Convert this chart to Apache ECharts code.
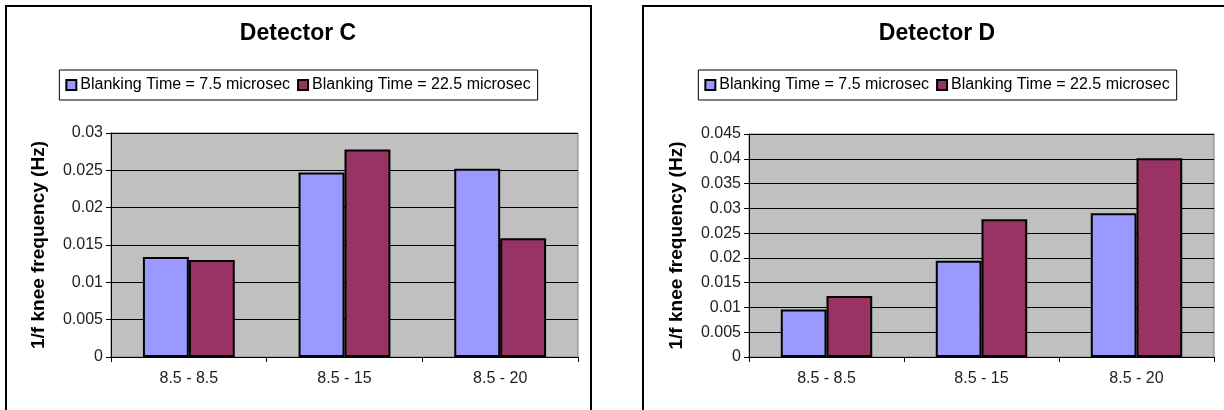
<!DOCTYPE html>
<html>
<head>
<meta charset="utf-8">
<script src="https://cdn.jsdelivr.net/npm/echarts@6/dist/echarts.min.js"></script>
<style>
  html, body { margin: 0; padding: 0; background: #fff; width: 1224px; height: 410px; overflow: hidden; }
  .frame { position: absolute; border: 2px solid #000; box-sizing: border-box; }
  .chart { position: absolute; top: 0; height: 410px; }
</style>
</head>
<body>
<div class="frame" style="left:5px; top:5px; width:587px; height:420px;"></div>
<div class="frame" style="left:642px; top:5px; width:600px; height:420px;"></div>
<div id="chartC" class="chart" style="left:5px; width:586px;"></div>
<div id="chartD" class="chart" style="left:643px; width:588px;"></div>
<script>
// ---- data ----
const categories = ['8.5 - 8.5', '8.5 - 15', '8.5 - 20'];
const seriesNames = ['Blanking Time = 7.5 microsec', 'Blanking Time = 22.5 microsec'];
const detectorC_75 = [0.0134, 0.0247, 0.0252];
const detectorC_225 = [0.0130, 0.0278, 0.0159];
const detectorD_75 = [0.0096, 0.0194, 0.0290];
const detectorD_225 = [0.0123, 0.0278, 0.0401];
const yAxisTitle = '1/f knee frequency (Hz)';
const titleC = 'Detector C';
const titleD = 'Detector D';
const yMaxC = 0.03;
const yMaxD = 0.045;
const yStep = 0.005;

const colors = ['#9999ff', '#993366'];
const FONT = 'Arial, "Liberation Sans", sans-serif';

function makeOption(title, dataA, dataB, yMax, gridLeft, gridRight, gridTop) {
  return {
    animation: false,
    textStyle: { fontFamily: FONT },
    title: {
      text: title,
      left: 'center',
      top: 22,
      padding: 0,
      textStyle: { fontFamily: FONT, fontSize: 23, fontWeight: 'bold', color: '#000' }
    },
    legend: {
      data: seriesNames,
      left: 'center',
      top: 70,
      padding: [7, 7, 7, 6],
      itemGap: 7,
      itemWidth: 10,
      itemHeight: 10,
      icon: 'rect',
      borderColor: '#000',
      borderWidth: 1,
      textStyle: { fontFamily: FONT, fontSize: 16, color: '#000', padding: [0, 0, 0, -1] }
    },
    grid: {
      left: gridLeft,
      right: gridRight,
      top: gridTop,
      bottom: 53,
      show: true,
      backgroundColor: '#c0c0c0',
      borderColor: '#808080',
      borderWidth: 1
    },
    xAxis: {
      type: 'category',
      data: categories,
      axisLine: { lineStyle: { color: '#000', width: 1 } },
      axisTick: { show: true, length: 5, lineStyle: { color: '#000' } },
      axisLabel: { fontFamily: FONT, fontSize: 16, color: '#222', margin: 14 },
      splitLine: { show: false }
    },
    yAxis: {
      type: 'value',
      min: 0,
      max: yMax,
      interval: yStep,
      name: yAxisTitle,
      nameLocation: 'middle',
      nameGap: 63,
      nameTextStyle: { fontFamily: FONT, fontSize: 19, fontWeight: 'bold', color: '#000' },
      axisLine: { show: true, lineStyle: { color: '#000', width: 1 } },
      axisTick: { show: true, length: 5, lineStyle: { color: '#000' } },
      axisLabel: { fontFamily: FONT, fontSize: 16, color: '#222', margin: 8 },
      splitLine: { show: true, lineStyle: { color: '#000', width: 1 } }
    },
    series: [
      {
        name: seriesNames[0],
        type: 'bar',
        data: dataA,
        barGap: '0%',
        barCategoryGap: '41%',
        itemStyle: { color: colors[0], borderColor: '#000', borderWidth: 2 }
      },
      {
        name: seriesNames[1],
        type: 'bar',
        data: dataB,
        barGap: '0%',
        barCategoryGap: '41%',
        itemStyle: { color: colors[1], borderColor: '#000', borderWidth: 2 }
      }
    ]
  };
}

const chartC = echarts.init(document.getElementById('chartC'), null, { renderer: 'canvas' });
chartC.setOption(makeOption(titleC, detectorC_75, detectorC_225, yMaxC, 106, 13, 133));

const chartD = echarts.init(document.getElementById('chartD'), null, { renderer: 'canvas' });
chartD.setOption(makeOption(titleD, detectorD_75, detectorD_225, yMaxD, 106, 17, 134));
</script>
</body>
</html>
